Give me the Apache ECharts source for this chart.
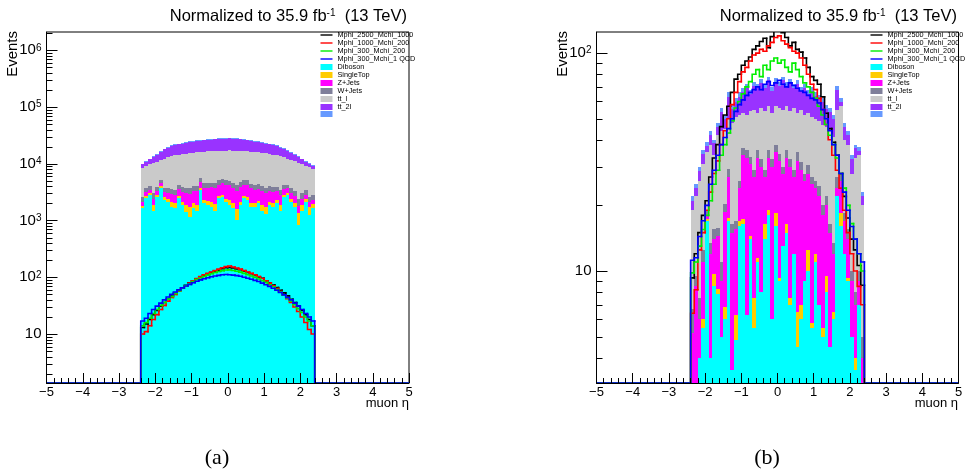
<!DOCTYPE html>
<html><head><meta charset="utf-8">
<script src="https://cdn.jsdelivr.net/npm/echarts/dist/echarts.min.js"></script>
<style>html,body{margin:0;padding:0;background:#fff}#c{width:972px;height:472px}</style>
</head><body><div id="c"></div>
<script>
// ---- binning ----
const binLow = -2.4, binWidth = 0.1;
const xTicks = [-5, 5];

// ---- panel (a) backgrounds (events per bin) ----
const dibosonA = [1660,2460,2800,1500,2570,3720,2300,2090,1720,1660,2460,1860,1400,1150,1660,1500,3470,2000,1860,1720,1500,2460,2570,2090,1860,1660,1015,1860,2460,2300,1720,1720,2000,1500,1300,1860,1720,2000,1500,2570,2800,2090,1720,830,1500,2090,1250,1660];
const singleTopA = [150,300,250,400,200,350,250,300,400,350,200,300,500,600,350,400,200,300,350,400,450,250,300,350,400,350,550,300,250,300,350,300,250,400,450,300,350,300,400,250,200,300,350,500,400,300,450,300];
const zjetsA = [300,400,450,500,500,550,600,700,800,850,900,1000,1100,1200,1300,1400,1200,1500,1600,1700,1800,1600,1700,1800,1900,1800,1700,1800,1600,1700,1600,1500,1400,1400,1300,1200,1100,1000,900,800,700,700,600,500,500,450,400,350];
const wjetsA = [500,550,600,600,650,600,650,700,700,650,700,750,700,750,800,750,800,850,800,850,800,850,900,850,800,850,900,850,800,850,800,750,800,750,700,750,700,650,700,650,600,650,600,550,600,550,500,500];
const ttlA = [5900,5500,5700,7300,6900,6300,8500,9200,10000,10500,10100,10800,11300,11600,11500,11900,10300,11600,11900,12000,12200,11800,11600,12000,12200,12400,12800,12100,11600,11400,11800,11700,11400,11500,11500,10800,10600,10200,10100,8700,8000,7900,7700,8000,6800,5800,6000,5200];
const tt2lA = [1300,1700,2200,2900,3600,4900,5700,6300,7000,7400,7600,8000,8300,8700,8900,9300,9200,9600,9800,10000,10200,10400,10600,10600,10900,10600,10400,10100,10000,9400,8900,8500,8200,7800,7500,7100,6900,6500,5700,5100,4500,3900,3400,2800,2200,1700,1500,1200];
const qcdA = [300,330,370,400,440,500,550,600,630,660,680,700,720,740,760,780,780,800,810,820,830,840,860,860,870,860,840,830,820,800,780,760,740,720,700,680,660,630,600,550,520,480,440,400,370,340,310,290];
// ---- panel (a) signals ----
const sig2500A = [13,15,18,22,26,31,36,41,47,52,59,65,72,80,87,94,101,108,114,121,127,131,141,147,149,146,140,136,128,121,115,108,101,96,87,80,73,66,59,53,47,41,36,31,26,22,18,14];
const sig1000A = [10,11,14,18,22,27,32,38,44,50,57,64,71,79,87,95,103,110,117,124,131,139,147,154,158,152,146,139,131,124,117,110,103,95,87,79,71,63,56,49,42,36,30,25,20,16,12,10];
const sig300A = [14,16,19,23,27,32,36,41,46,52,58,64,71,77,84,91,97,103,109,115,121,126,131,134,135,132,128,123,117,111,105,99,93,87,81,74,68,61,55,49,43,38,33,28,24,20,17,14];
const sig300m1A = [17,19,23,27,31,35,40,45,50,55,60,65,70,75,80,85,90,94,98,102,105,108,111,112,111,109,107,104,100,96,92,88,84,79,74,69,64,59,54,49,44,40,35,31,27,23,20,17];

// ---- panel (b) backgrounds ----
const dibosonB = [1.5,2.5,4,5.5,17,4,8.5,7.8,5,6,17,3.5,4.8,16,16.5,6.3,14,5.5,11,8,14,18,6,16,9,13,15,7,12,4.5,6,9,10,5.5,11,7,5,8,4.5,6,22,16,12,9,5,3.5,7,2];
const singleTopB = [0,0,0,0.5,0.3,0,1.2,0.5,0,0.8,0.5,0,1.5,1,0.8,0,0.5,2,0.5,0,2.5,1,0,2.5,0.3,0,1.5,0.5,0,2,1,0,2.5,0.3,1,0,0.5,1.5,0,0.5,0,2.5,0,0.3,0,0.5,0,0];
const zjetsB = [3.7,6,2,5,0.7,8,4.3,6.2,4,11.9,9.5,11.5,9.2,7,16.7,26.7,16.5,19.5,21.5,22,10.5,14,24,16.5,22.7,15,16.5,22.5,15,25.5,22,17,15.5,19.2,12,15,12.5,10.5,10.5,5.5,2,7.5,5,4.7,4,3,2,2];
const wjetsB = [1.5,1,1.5,1.5,1,1.5,1.5,1.2,2,1.5,2.5,1.5,1.5,2,2.5,3,2.5,2,3,2.5,2,3,2.5,3,2.5,2,3,2.5,2,3,2.5,2,2.5,2,2,2.5,2,2,1.5,1.5,3,2,1.5,1.5,1,1,1,1];
const ttlB = [12.3,12.5,18.5,18.5,16,24.5,18.5,26.3,33,24.8,20.5,31.5,34,26,16.5,16,20.5,26,17,23.5,25,21,20.5,19,21.5,25,21,21.5,27,18,23.5,24,22.5,24,24,24.5,27,24,27.5,27.5,28,29,21.5,22.5,18,25,24,15];
const tt2lB = [2,2,2.8,3.5,2.5,4.2,4.5,4,9.5,5,13,7.5,8.5,11,13,17,11,16,16,17,15,18,14,17,15,20,14,19,13,19,12,17,12,16,13.5,12.5,12.5,9.5,9.5,9,13,2.5,6,4,4.5,3.5,1.5,2];
const qcdB = [1,1,1.2,1.5,1.5,1.8,1.5,2,2.5,2,3,2.5,2.5,3,3,3,3,3,3,3,3,3,3,3,3,3,3,3,3,3,3,3,3,3,2.5,2.5,2.5,2.5,2.5,2,3,2.5,2,2,1.5,1.5,1.5,1];
// ---- panel (b) signals ----
const sig2500B = [9.3,12,15,18,21,27,33,38,46,52,57,66,76,80,88,92,96,104,108,113,117,106,119,132,136,124,118,108,112,104,101,95,86,78,75,72,63,53,45,39,34,28,22,17.5,14,12.5,10.6,8.6];
const sig1000B = [6.4,8.2,12.5,15,19,23,28,32,38,44,50,58,66,74,82,86,92,98,100,104,102,108,112,118,120,114,110,106,102,100,95,88,80,72,68,62,55,47,40,34,29,24,19,15,12,10,8.5,7];
const sig300B = [9.8,11,13,15.5,18,21,25,29,34,38,43,49,56,60,65,70,74,80,84,78,88,84,92,95,90,93,86,82,90,84,78,73,70,66,62,57,52,47,42,38,33,28,24,20,16.5,14,12,10];
const sig300m1B = [11.2,11.5,14.4,17,20,25,29,34,38,41,45,50,54,58,61,64,66,68,70,68,72,74,71,73,75,72,70,73,71,69,67,66,64,62,61,59,55,50,44,38,34,28,23,19,16,14,12,11];

// ---- axis ranges ----
const yRangeA = [1.37, 2.1e6];
const yRangeB = [3.06, 125];
const minorMantissa = [2,3,4,5,6,7,8,9];

const FONT = '"Liberation Sans", Arial, Helvetica, sans-serif';
const names = {
  s1: 'Mphi_2500_Mchi_1000', s2: 'Mphi_1000_Mchi_200', s3: 'Mphi_300_Mchi_200', s4: 'Mphi_300_Mchi_1'
};
const colors = {
  s1: '#000000', s2: '#ff0000', s3: '#00ee00', s4: '#0000ff',
  Diboson: '#00ffff', SingleTop: '#ffcc00', 'Z+Jets': '#ff00ff', 'W+Jets': '#7f7f9a',
  tt_l: '#cacaca', tt_2l: '#9933ff', QCD: '#6699ff'
};

function stackSeries(layers, g, base) {
  const n = layers[0].vals.length;
  const sum = new Array(n).fill(0);
  return layers.map((L, li) => {
    const data = L.vals.map((v, i) => {
      const lo = li === 0 ? base : sum[i];
      const hi = sum[i] + v;
      sum[i] = hi;
      return [binLow + i * binWidth, binLow + (i + 1) * binWidth, lo, hi];
    });
    const col = colors[L.name];
    return {
      type: 'custom', name: L.name, xAxisIndex: g, yAxisIndex: g, clip: true, z: 2,
      silent: true, animation: false,
      itemStyle: { color: col },
      encode: { x: [0, 1], y: [2, 3] },
      data,
      renderItem: (params, api) => {
        const x0 = api.value(0), x1 = api.value(1), lo = api.value(2), hi = api.value(3);
        if (!(hi > lo)) return null;
        const a = api.coord([x0, hi]), b = api.coord([x1, lo]);
        const xa = Math.round(a[0]), xb = Math.round(b[0]);
        const ya = Math.round(a[1]), yb = Math.round(b[1]);
        if (yb - ya <= 0) return null;
        return { type: 'rect', shape: { x: xa, y: ya, width: xb - xa, height: yb - ya }, style: { fill: col } };
      }
    };
  });
}

function lineSeries(key, vals, g, base) {
  const data = [[xTicks[0], binLow, 0, 0]];
  for (let i = 0; i < vals.length; i++) {
    data.push([binLow + i * binWidth, binLow + (i + 1) * binWidth, vals[i], i ? vals[i - 1] : 0]);
  }
  data.push([binLow + vals.length * binWidth, xTicks[1], 0, vals[vals.length - 1]]);
  const col = colors[key];
  return {
    type: 'custom', name: names[key], xAxisIndex: g, yAxisIndex: g, clip: true, z: 3,
    silent: true, animation: false,
    itemStyle: { color: col },
    encode: { x: [0, 1], y: [2, 3] },
    data,
    renderItem: (params, api) => {
      const x0 = api.value(0), x1 = api.value(1);
      let v = api.value(2), pv = api.value(3);
      v = v > 0 ? v : base; pv = pv > 0 ? pv : base;
      const a = api.coord([x0, pv]), b = api.coord([x0, v]), c = api.coord([x1, v]);
      return { type: 'polyline', shape: { points: [a, b, c] },
        style: { stroke: col, lineWidth: 1.6, fill: null, lineCap: 'square', lineJoin: 'miter' } };
    }
  };
}

function minorTickSeries(g, range) {
  const data = [];
  for (let e = 0; e <= 7; e++) {
    minorMantissa.forEach(m => {
      const v = m * Math.pow(10, e);
      if (v > range[0] && v < range[1]) data.push([xTicks[0], v]);
    });
  }
  return {
    type: 'custom', xAxisIndex: g, yAxisIndex: g, clip: false, z: 6, silent: true, animation: false,
    encode: { x: 0, y: 1 }, data,
    renderItem: (params, api) => {
      const p = api.coord([api.value(0), api.value(1)]);
      const y = Math.round(p[1]) + 0.5;
      return { type: 'line', shape: { x1: p[0], y1: y, x2: p[0] + 6, y2: y }, style: { stroke: '#000', lineWidth: 1 } };
    }
  };
}

function bgLayers(d, st, z, w, ttl, tt2l, qcd) {
  return [
    { name: 'Diboson', vals: d }, { name: 'SingleTop', vals: st }, { name: 'Z+Jets', vals: z },
    { name: 'W+Jets', vals: w }, { name: 'tt_l', vals: ttl }, { name: 'tt_2l', vals: tt2l }, { name: 'QCD', vals: qcd }
  ];
}

const series = [].concat(
  stackSeries(bgLayers(dibosonA, singleTopA, zjetsA, wjetsA, ttlA, tt2lA, qcdA), 0, yRangeA[0]),
  lineSeries('s1', sig2500A, 0, yRangeA[0]),
  lineSeries('s2', sig1000A, 0, yRangeA[0]),
  lineSeries('s3', sig300A, 0, yRangeA[0]),
  lineSeries('s4', sig300m1A, 0, yRangeA[0]),
  minorTickSeries(0, yRangeA),
  stackSeries(bgLayers(dibosonB, singleTopB, zjetsB, wjetsB, ttlB, tt2lB, qcdB), 1, yRangeB[0]),
  lineSeries('s1', sig2500B, 1, yRangeB[0]),
  lineSeries('s2', sig1000B, 1, yRangeB[0]),
  lineSeries('s3', sig300B, 1, yRangeB[0]),
  lineSeries('s4', sig300m1B, 1, yRangeB[0]),
  minorTickSeries(1, yRangeB)
);

const lineIcon = 'path://M0,0H12V1.4H0Z';
const legendData = [
  { name: names.s1, icon: lineIcon }, { name: names.s2, icon: lineIcon },
  { name: names.s3, icon: lineIcon }, { name: names.s4, icon: lineIcon },
  { name: 'Diboson', icon: 'rect' }, { name: 'SingleTop', icon: 'rect' }, { name: 'Z+Jets', icon: 'rect' },
  { name: 'W+Jets', icon: 'rect' }, { name: 'tt_l', icon: 'rect' }, { name: 'tt_2l', icon: 'rect' }, { name: 'QCD', icon: 'rect' }
];
function legendAt(left) {
  return {
    left, top: 31, orient: 'vertical', itemWidth: 12, itemHeight: 6, itemGap: 0, padding: 0,
    selectedMode: false, data: legendData,
    itemStyle: { borderWidth: 0 },
    formatter: n => n === names.s4 ? n + ' QCD' : (n === 'QCD' ? '' : n),
    textStyle: { fontSize: 7.3, lineHeight: 8, fontFamily: FONT, color: '#000', padding: 0 }
  };
}

function xAxisFor(g) {
  return {
    type: 'value', gridIndex: g, min: xTicks[0], max: xTicks[1], interval: 1, z: 10,
    axisLine: { show: true, onZero: false, lineStyle: { color: '#000', width: 1 } },
    axisTick: { show: true, inside: true, length: 10, lineStyle: { color: '#000' } },
    minorTick: { show: true, splitNumber: 5, length: 5, lineStyle: { color: '#000' } },
    splitLine: { show: false }, minorSplitLine: { show: false },
    axisLabel: { margin: 3, fontSize: 13, fontFamily: FONT, color: '#000',
      formatter: v => v < 0 ? '\u2212' + (-v) : String(v) }
  };
}
function yAxisFor(g, range) {
  return {
    type: 'log', logBase: 10, gridIndex: g, min: range[0], max: range[1], z: 10, position: 'left',
    axisLine: { show: true, onZero: false, lineStyle: { color: '#000', width: 1 } },
    axisTick: { show: true, inside: true, length: 11, lineStyle: { color: '#000' } },
    splitLine: { show: false },
    axisLabel: {
      margin: 5, showMinLabel: false, showMaxLabel: false, color: '#000',
      formatter: v => {
        const l = Math.log10(v), e = Math.round(l);
        if (Math.abs(l - e) > 0.01) return '';
        return e === 1 ? '{b|10}' : '{b|10}{s|' + e + '}';
      },
      rich: {
        b: { fontSize: 15, fontFamily: FONT, color: '#000' },
        s: { fontSize: 10, fontFamily: FONT, color: '#000', verticalAlign: 'top' }
      }
    }
  };
}

const titleRich = {
  a: { fontSize: 16.5, fontFamily: FONT, color: '#000', fontWeight: 'normal' },
  s: { fontSize: 10, fontFamily: FONT, color: '#000', fontWeight: 'normal', verticalAlign: 'top' }
};
const titleText = '{a|Normalized to 35.9 fb}{s|-1}{a|  (13 TeV)}';

const option = {
  animation: false,
  backgroundColor: '#fff',
  title: [
    { text: titleText, right: 565, top: 8, padding: 0, textStyle: { fontWeight: 'normal', rich: titleRich } },
    { text: titleText, right: 15, top: 8, padding: 0, textStyle: { fontWeight: 'normal', rich: titleRich } }
  ],
  legend: [legendAt(320.5), legendAt(870.5)],
  grid: [
    { left: 46.5, top: 32, width: 362.5, height: 351, show: true, borderColor: '#000', borderWidth: 1, backgroundColor: 'transparent' },
    { left: 596.5, top: 32, width: 362, height: 351, show: true, borderColor: '#000', borderWidth: 1, backgroundColor: 'transparent' }
  ],
  xAxis: [xAxisFor(0), xAxisFor(1)],
  yAxis: [yAxisFor(0, yRangeA), yAxisFor(1, yRangeB)],
  graphic: [
    { type: 'text', x: 13, y: 31, rotation: Math.PI / 2, style: { text: 'Events', fontSize: 15, fontFamily: FONT, fill: '#000', align: 'right', verticalAlign: 'middle' } },
    { type: 'text', x: 563, y: 31, rotation: Math.PI / 2, style: { text: 'Events', fontSize: 15, fontFamily: FONT, fill: '#000', align: 'right', verticalAlign: 'middle' } },
    { type: 'text', x: 409, y: 403, style: { text: 'muon \u03b7', fontSize: 13, fontFamily: FONT, fill: '#000', align: 'right', verticalAlign: 'middle' } },
    { type: 'text', x: 958, y: 403, style: { text: 'muon \u03b7', fontSize: 13, fontFamily: FONT, fill: '#000', align: 'right', verticalAlign: 'middle' } },
    { type: 'text', x: 217, y: 458, style: { text: '(a)', fontSize: 22, fontFamily: '"Liberation Serif", "Times New Roman", serif', fill: '#000', align: 'center', verticalAlign: 'middle' } },
    { type: 'text', x: 767, y: 458, style: { text: '(b)', fontSize: 22, fontFamily: '"Liberation Serif", "Times New Roman", serif', fill: '#000', align: 'center', verticalAlign: 'middle' } }
  ],
  series
};

const chart = echarts.init(document.getElementById('c'));
chart.setOption(option);
</script>
</body></html>
